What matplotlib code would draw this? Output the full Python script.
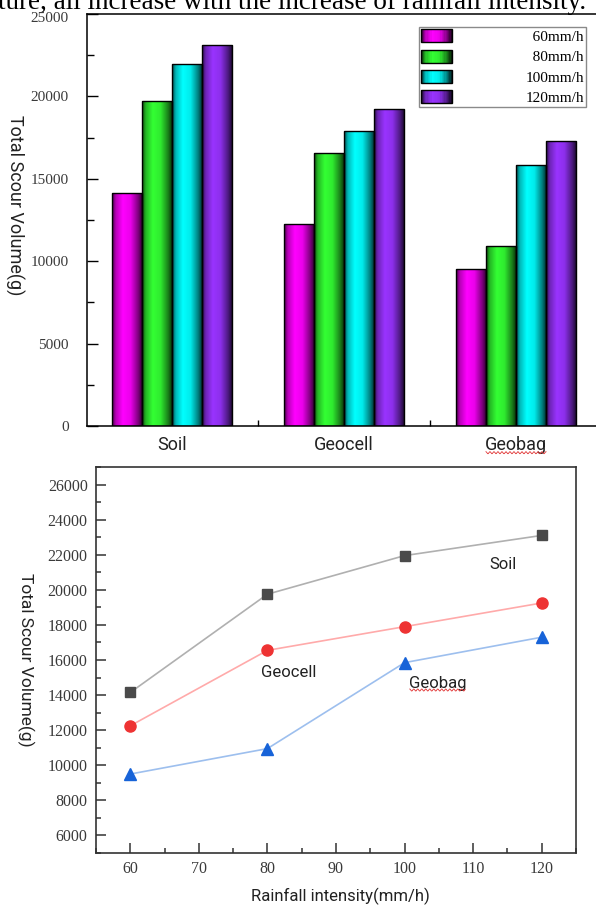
import numpy as np
import matplotlib.pyplot as plt
from matplotlib.patches import Rectangle
from matplotlib.legend_handler import HandlerBase
from matplotlib.lines import Line2D
from matplotlib.transforms import IdentityTransform, Affine2D
from matplotlib.colors import to_rgb
from matplotlib.ticker import MultipleLocator

# scour volume (g) for each surface at each rainfall intensity
rain = [60, 80, 100, 120]
rain_labels = ["60mm/h", "80mm/h", "100mm/h", "120mm/h"]
surfaces = ["Soil", "Geocell", "Geobag"]
soil = [14150, 19750, 21950, 23100]
geocell = [12250, 16550, 17900, 19250]
geobag = [9500, 10950, 15850, 17300]

bar_colors = ["#ff00ff", "#33ff33", "#00ffff", "#9933ff"]

SERIF = ["Liberation Serif", "DejaVu Serif"]
SANS = ["Roboto", "DejaVu Sans"]
TICK_COLOR = "#3a3a3a"

# cylinder-like shading across a bar, left edge -> right edge
shade_t = [0.0, 0.12, 0.35, 0.6, 0.85, 1.0]
shade_f = [0.3, 0.72, 1.0, 0.92, 0.5, 0.15]


def shaded(color, n=64):
    t = np.linspace(0, 1, n)
    f = np.interp(t, shade_t, shade_f)
    return np.array(to_rgb(color))[None, :] * f[:, None]


class ShadedHandler(HandlerBase):
    def create_artists(self, legend, orig_handle, xdescent, ydescent,
                       width, height, fontsize, trans):
        n = 24
        rgb = shaded(orig_handle.get_facecolor()[:3], n)
        w = width / n
        arts = []
        for i in range(n):
            arts.append(Rectangle((-xdescent + i * w, -ydescent), w * 1.3, height,
                                  facecolor=rgb[i], edgecolor="none",
                                  transform=trans))
        arts.append(Rectangle((-xdescent, -ydescent), width, height, fill=False,
                              edgecolor="black", lw=1.0, transform=trans))
        return arts


def squiggle(fig, text, color="#e03030"):
    # red wavy underline beneath a word
    bb = text.get_window_extent()
    xs = np.linspace(bb.x0 + 1, bb.x1 - 1, 200)
    ys = bb.y0 + 1.0 + 1.0 * np.sin((xs - bb.x0) * 2 * np.pi / 4.0)
    fig.add_artist(Line2D(xs, ys, transform=IdentityTransform(),
                          color=color, lw=0.6))


fig = plt.figure(figsize=(5.96, 9.07), dpi=100)

# the sentence above the chart, mostly scrolled out of view
fig.text(-0.004, 1 - 9 / 907,
         "ture, all increase with the increase of rainfall intensity.",
         family=SERIF, fontsize=19.5, va="baseline", ha="left", color="black",
         zorder=-1)

# ---- grouped bar chart ----
ax1 = fig.add_axes([87 / 596, 1 - 426 / 907, (596 - 87) / 596, 412 / 907])
ax1.patch.set_alpha(0)
x = np.arange(len(surfaces))
width = 0.175
series = np.array([soil, geocell, geobag])  # rows: surface, cols: rainfall
for j, (lab, c) in enumerate(zip(rain_labels, bar_colors)):
    offs = (j - 1.5) * width
    bars = ax1.bar(x + offs, series[:, j], width, facecolor="none",
                   edgecolor="black", lw=1.0, zorder=3)
    for rect in bars:
        x0, h = rect.get_x(), rect.get_height()
        im = ax1.imshow(shaded(c)[None, :, :], extent=(x0, x0 + width, 0, h),
                        aspect="auto", interpolation="bilinear", zorder=2)
        im.set_clip_path(rect)

ax1.set_xlim(-0.494, 2.465)
ax1.set_ylim(0, 25000)
ax1.yaxis.set_major_locator(MultipleLocator(5000))
ax1.yaxis.set_minor_locator(MultipleLocator(2500))
ax1.set_xticks([0.5, 1.5])
ax1.set_xticklabels([])
ax1.set_xticks(x, surfaces, minor=True)
ax1.tick_params(axis="x", which="major", direction="in", length=4, width=1)
ax1.tick_params(axis="x", which="minor", length=0, pad=7, labelsize=13,
                labelcolor="#222222")
for t in ax1.get_xticklabels(minor=True):
    t.set_family(SANS)
ax1.tick_params(axis="y", which="major", direction="in", length=8, width=1,
                pad=13, labelsize=11, labelcolor=TICK_COLOR)
ax1.tick_params(axis="y", which="minor", direction="in", length=5, width=1)
for t in ax1.get_yticklabels():
    t.set_family(SERIF)
ax1.spines["right"].set_visible(False)
for s in ("left", "top", "bottom"):
    ax1.spines[s].set_linewidth(1.1)
ax1.set_ylabel("Total Scour Volume(g)", family=SANS, fontsize=13,
               rotation=-90, va="center", color="#222222")
ax1.yaxis.set_label_coords(-0.1415, 0.536)

handles = [Rectangle((0, 0), 1, 1, facecolor=c) for c in bar_colors]
labels = ["\u2007" + rain_labels[0], "\u2007" + rain_labels[1],
          rain_labels[2], rain_labels[3]]
leg = ax1.legend(handles, labels, handler_map={Rectangle: ShadedHandler()},
                 loc="upper right", bbox_to_anchor=(586 / 596, 1 - 27 / 907),
                 bbox_transform=fig.transFigure, borderaxespad=0,
                 prop={"family": SERIF, "size": 11}, frameon=True,
                 fancybox=False, edgecolor="#8a8a8a", framealpha=1,
                 handlelength=2.0, handleheight=0.95, handletextpad=4.8,
                 labelspacing=0.36, borderpad=0.15)
leg.get_frame().set_linewidth(1.0)

# ---- line chart ----
ax2 = fig.add_axes([96 / 596, 1 - 853 / 907, 480 / 596, 386 / 907])
ax2.plot(rain, soil, color="#b0b0b0", lw=1.2, marker="s", ms=7,
         mfc="#4a4a4a", mec="#4a4a4a", zorder=3)
ax2.plot(rain, geocell, color="#ffaaaa", lw=1.2, marker="o", ms=8,
         mfc="#ee3333", mec="#ee3333", zorder=3)
ax2.plot(rain, geobag, color="#9dbfee", lw=1.2, marker="^", ms=8,
         mfc="#1763d8", mec="#1763d8", zorder=3)

ax2.text(114.3, 21440, "Soil", family=SANS, fontsize=12, ha="center",
         va="center", color="#222222")
ax2.text(83.1, 15290, "Geocell", family=SANS, fontsize=12, ha="center",
         va="center", color="#222222")
geobag_lbl = ax2.text(104.8, 14660, "Geobag", family=SANS, fontsize=12,
                      ha="center", va="center", color="#222222")

ax2.set_xlim(55, 125)
ax2.set_ylim(5000, 27000)
ax2.xaxis.set_major_locator(MultipleLocator(10))
ax2.xaxis.set_minor_locator(MultipleLocator(5))
ax2.yaxis.set_major_locator(MultipleLocator(2000))
ax2.yaxis.set_minor_locator(MultipleLocator(1000))
ax2.yaxis.set_major_formatter(lambda v, p: f"{int(v)}" if v >= 6000 else "")
ax2.tick_params(which="major", direction="in", length=7, width=1.1, pad=6,
                labelsize=11.5, labelcolor=TICK_COLOR, color="#333333")
ax2.tick_params(which="minor", direction="in", length=3.5, width=1.1,
                color="#333333")
for t in ax2.get_xticklabels() + ax2.get_yticklabels():
    t.set_family(SERIF)
for s in ax2.spines.values():
    s.set_linewidth(1.2)
    s.set_color("#333333")
ax2.set_ylabel("Total Scour Volume(g)", family=SANS, fontsize=12.5,
               rotation=-90, va="center", color="#222222")
ax2.yaxis.set_label_coords(-0.146, 0.5)
ax2.set_xlabel("Rainfall intensity(mm/h)", family=SANS, fontsize=12,
               color="#222222")
ax2.xaxis.set_label_coords(0.51, -0.09)

fig.canvas.draw()
# nudge the topmost y label down a little, clear of the sentence above
for tick in ax1.yaxis.get_major_ticks():
    if tick.get_loc() == 25000:
        tick.label1.set_transform(tick.label1.get_transform()
                                  + Affine2D().translate(0, -3))
squiggle(fig, ax1.get_xticklabels(minor=True)[2])
squiggle(fig, geobag_lbl)

fig.savefig("out.png", dpi=100)
